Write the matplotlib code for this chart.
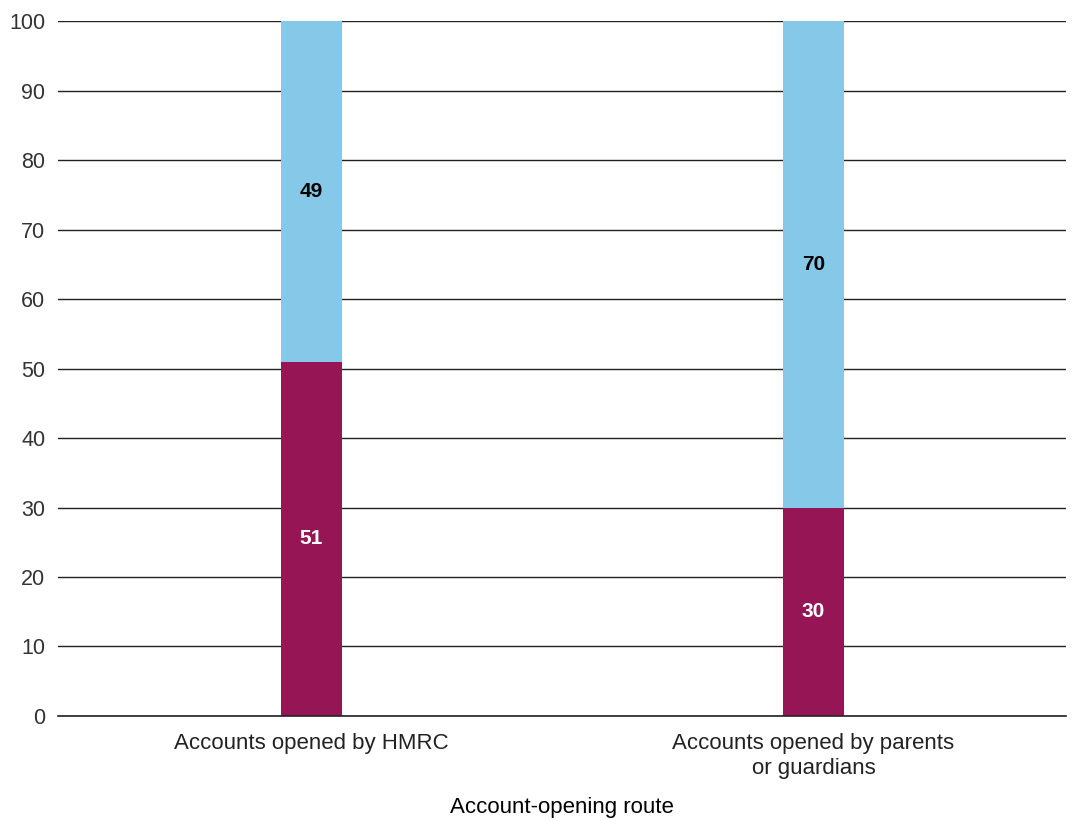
"""Stacked bar chart of account-opening route shares."""

import matplotlib

matplotlib.use("Agg")
import matplotlib.pyplot as plt
import numpy as np

plt.rcParams["font.family"] = ["Liberation Sans", "DejaVu Sans"]

categories = ["Accounts opened by HMRC", "Accounts opened by parents\nor guardians"]
lower_values = [51, 30]
upper_values = [49, 70]
y_ticks = [0, 10, 20, 30, 40, 50, 60, 70, 80, 90, 100]

MAROON = "#961655"
BLUE = "#85C8E8"

fig = plt.figure(figsize=(10.72, 8.21), dpi=100)
ax = fig.add_axes([0.0541, 0.1279, 0.9403, 0.8465])

x = np.arange(len(categories))
width = 0.1215
lower = np.array(lower_values)
upper = np.array(upper_values)

ax.bar(x, lower, width, color=MAROON, zorder=3)
ax.bar(x, upper, width, bottom=lower, color=BLUE, zorder=3)

for xi, lo, up in zip(x, lower, upper):
    ax.text(xi, lo / 2, str(lo), ha="center", va="center", color="white",
            fontsize=15, fontweight="bold", zorder=4)
    ax.text(xi, lo + up / 2, str(up), ha="center", va="center", color="black",
            fontsize=15, fontweight="bold", zorder=4)

ax.set_xlim(-0.505, 1.503)
ax.set_ylim(0, 100)
ax.set_yticks(y_ticks)
ax.set_xticks(x)
ax.set_xticklabels(categories, fontsize=16, color="#222222", linespacing=1.25)
ax.tick_params(axis="y", length=0, labelsize=15.5, labelcolor="#333333", pad=9)
ax.tick_params(axis="x", length=0, pad=12)
ax.grid(axis="y", color="#222222", linewidth=1.0, zorder=0)
ax.axhline(0, color="#222222", linewidth=1.2, zorder=5, clip_on=False)
for spine in ax.spines.values():
    spine.set_visible(False)

ax.set_xlabel("Account-opening route", fontsize=16, color="black", labelpad=13)

fig.savefig("out.png", dpi=100)
plt.close(fig)
